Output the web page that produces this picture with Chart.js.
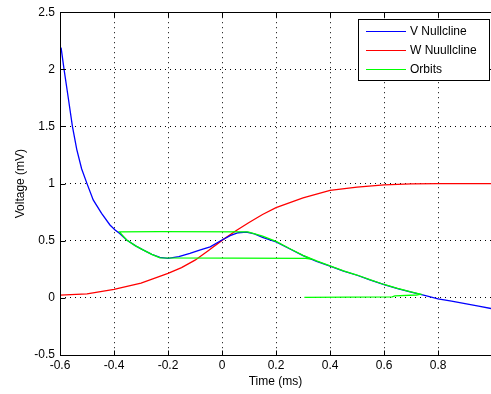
<!DOCTYPE html>
<html>
<head>
<meta charset="utf-8">
<script src="https://cdn.jsdelivr.net/npm/chart.js@4/dist/chart.umd.min.js"></script>
<style>
  html, body { margin: 0; padding: 0; background: #fff; }
  #wrap { width: 491px; height: 394px; position: relative; }
</style>
</head>
<body>
<div id="wrap"><canvas id="myChart"></canvas></div>
<script>
// ---------------------------- data ----------------------------
var seriesNames = ["V Nullcline", "W Nuullcline", "Orbits"];

var vX = [-0.596, -0.585, -0.57, -0.554, -0.538, -0.52, -0.5, -0.477, -0.446, -0.415, -0.396, -0.38, -0.353, -0.32, -0.291, -0.26, -0.23, -0.2, -0.16, -0.119, -0.08, -0.044, 0, 0.03, 0.06, 0.09, 0.12, 0.15, 0.2, 0.25, 0.3, 0.35, 0.4, 0.45, 0.5, 0.55, 0.6, 0.65, 0.7, 0.75, 0.8, 0.85, 0.9, 0.95, 1.0];
var vY = [2.19, 2.0, 1.76, 1.5, 1.3, 1.13, 1.0, 0.857, 0.74, 0.638, 0.594, 0.565, 0.506, 0.455, 0.418, 0.38, 0.354, 0.345, 0.36, 0.389, 0.42, 0.447, 0.506, 0.545, 0.57, 0.575, 0.56, 0.53, 0.49, 0.43, 0.37, 0.32, 0.277, 0.235, 0.198, 0.155, 0.115, 0.08, 0.05, 0.022, -0.008, -0.028, -0.05, -0.072, -0.095];

var wX = [-0.6, -0.5, -0.4, -0.3, -0.2, -0.15, -0.1, -0.05, 0, 0.05, 0.1, 0.15, 0.2, 0.3, 0.4, 0.5, 0.6, 0.7, 0.8, 0.9, 1.0];
var wY = [0.024, 0.035, 0.074, 0.13, 0.214, 0.265, 0.33, 0.415, 0.503, 0.585, 0.66, 0.73, 0.79, 0.875, 0.94, 0.97, 0.988, 0.997, 1.0, 1.0, 1.0];

var orbitX = [0.305, 0.63, 0.64, 0.72, 0.735, 0.7, 0.65, 0.6, 0.55, 0.5, 0.45, 0.4, 0.35, 0.3, 0.25, 0.2, 0.15, 0.096, -0.23, -0.38, -0.353, -0.32, -0.291, -0.26, -0.23, 0.31, 0.33];
var orbitY = [0.005, 0.008, 0.018, 0.025, 0.032, 0.052, 0.082, 0.117, 0.157, 0.2, 0.237, 0.279, 0.323, 0.372, 0.432, 0.495, 0.54, 0.578, 0.579, 0.577, 0.506, 0.455, 0.418, 0.38, 0.35, 0.345, 0.34];

var xTicks = [-0.6, -0.4, -0.2, 0, 0.2, 0.4, 0.6, 0.8];
var yTicks = [-0.5, 0, 0.5, 1, 1.5, 2, 2.5];

function pts(xs, ys) {
  return xs.map(function (x, i) { return { x: x, y: ys[i] }; });
}

// ------------------- frame, inner ticks, legend -------------------
var matlabBox = {
  id: "matlabBox",
  afterDraw: function (chart) {
    var ctx = chart.ctx, a = chart.chartArea;
    var xs = chart.scales.x, ys = chart.scales.y;
    var L = Math.round(a.left) + 0.5, T = Math.round(a.top) + 0.5, B = Math.round(a.bottom) + 0.5, R = a.right;
    ctx.save();
    ctx.strokeStyle = "#000";
    ctx.lineWidth = 1;
    ctx.beginPath();
    ctx.moveTo(R, T); ctx.lineTo(L, T); ctx.lineTo(L, B); ctx.lineTo(R, B);
    // tick marks inside the box
    xTicks.forEach(function (v) {
      var px = Math.round(xs.getPixelForValue(v)) + 0.5;
      ctx.moveTo(px, B); ctx.lineTo(px, B - 5);
      ctx.moveTo(px, T); ctx.lineTo(px, T + 5);
    });
    yTicks.forEach(function (v) {
      var py = Math.round(ys.getPixelForValue(v)) + 0.5;
      ctx.moveTo(L, py); ctx.lineTo(L + 5, py);
    });
    ctx.stroke();

    // legend
    var bx = 358.5, by = 19.5, bw = 131, bh = 61;
    ctx.fillStyle = "#fff";
    ctx.fillRect(bx, by, bw, bh);
    ctx.strokeRect(bx, by, bw, bh);
    ctx.font = "12px 'Liberation Sans', Arial, sans-serif";
    ctx.textBaseline = "middle";
    ctx.textAlign = "left";
    chart.data.datasets.forEach(function (ds, i) {
      var yy = 31 + i * 19;
      ctx.strokeStyle = ds.borderColor;
      ctx.beginPath();
      ctx.moveTo(366, yy + 0.5); ctx.lineTo(406, yy + 0.5);
      ctx.stroke();
      ctx.fillStyle = "#000";
      ctx.fillText(ds.label, 410, yy + 1);
    });
    ctx.restore();
  }
};

var tickFont = { family: "'Liberation Sans', Arial, sans-serif", size: 12 };

new Chart("myChart", {
  type: "scatter",
  data: {
    datasets: [{
      label: seriesNames[0],
      data: pts(vX, vY),
      borderColor: "#0000ff",
      borderWidth: 1.3,
      showLine: true,
      pointRadius: 0,
      tension: 0,
      order: 1
    }, {
      label: seriesNames[1],
      data: pts(wX, wY),
      borderColor: "#ff0000",
      borderWidth: 1.3,
      showLine: true,
      pointRadius: 0,
      tension: 0,
      order: 2
    }, {
      label: seriesNames[2],
      data: pts(orbitX, orbitY),
      borderColor: "#00ff00",
      borderWidth: 1.3,
      showLine: true,
      pointRadius: 0,
      tension: 0,
      order: 0
    }]
  },
  options: {
    responsive: true,
    maintainAspectRatio: false,
    animation: false,
    layout: { padding: { top: 12, right: 0, left: 0, bottom: 0 } },
    plugins: {
      legend: { display: false },
      tooltip: { enabled: false }
    },
    scales: {
      x: {
        type: "linear",
        min: -0.6,
        max: 0.996,
        afterBuildTicks: function (s) { s.ticks = xTicks.map(function (v) { return { value: v }; }); },
        afterFit: function (s) { s.height = 39; },
        ticks: {
          color: "#000",
          font: tickFont,
          padding: 3,
          maxRotation: 0,
          callback: function (v) { return String(Math.round(v * 10) / 10); }
        },
        grid: { color: "#000", lineWidth: 1, drawTicks: false },
        border: { display: false, dash: [1, 4] },
        title: { display: true, text: "Time (ms)", color: "#000", font: tickFont, padding: { top: 0, bottom: 5 } }
      },
      y: {
        type: "linear",
        min: -0.5,
        max: 2.5,
        afterBuildTicks: function (s) { s.ticks = yTicks.map(function (v) { return { value: v }; }); },
        afterFit: function (s) { s.width = 60; },
        ticks: {
          color: "#000",
          font: tickFont,
          padding: 5,
          callback: function (v) { return String(Math.round(v * 10) / 10); }
        },
        grid: { color: "#000", lineWidth: 1, drawTicks: false },
        border: { display: false, dash: [1, 4] },
        title: { display: true, text: "Voltage (mV)", color: "#000", font: tickFont, padding: { top: 13, bottom: 0 } }
      }
    }
  },
  plugins: [matlabBox]
});
</script>
</body>
</html>
